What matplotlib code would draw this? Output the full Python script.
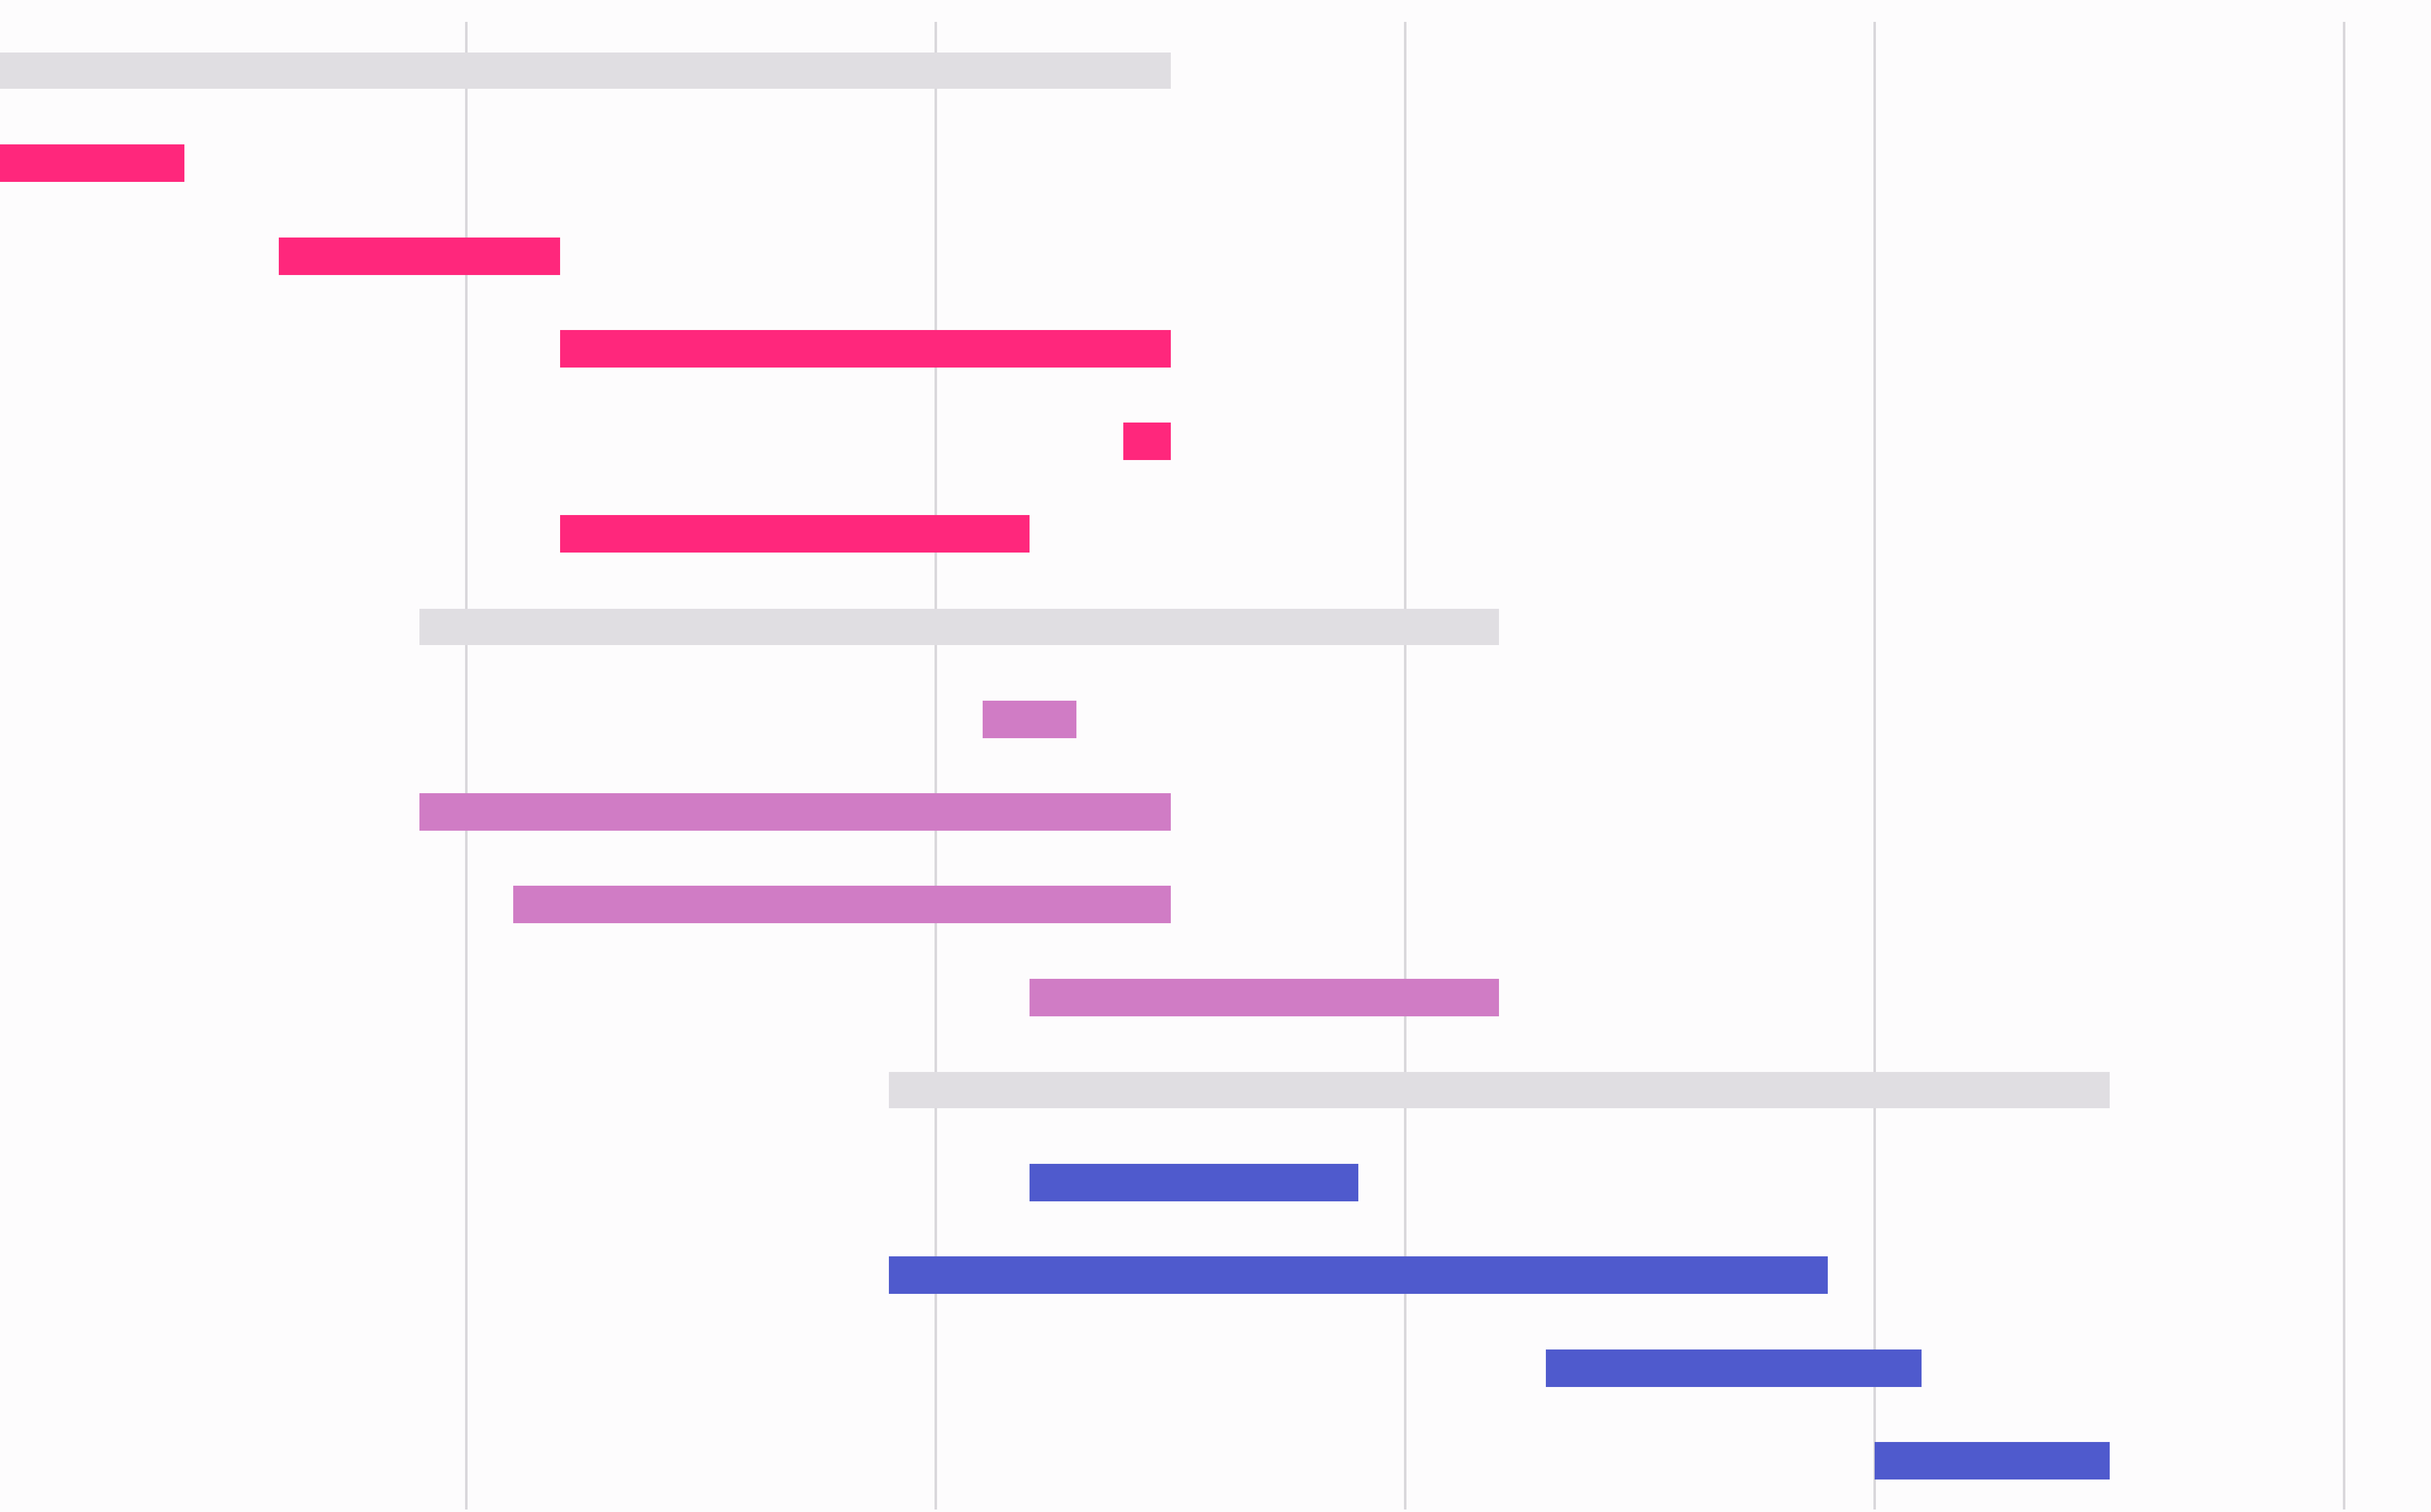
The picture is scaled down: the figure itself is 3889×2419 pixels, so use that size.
import matplotlib
matplotlib.use("Agg")
import matplotlib.pyplot as plt

# tasks top to bottom: start, end (units of the x axis)
starts = [0, 0, 6, 12, 24, 12, 9, 21, 9, 11, 22, 19, 22, 19, 33, 40]
ends = [25, 4, 12, 25, 25, 22, 32, 23, 25, 25, 32, 45, 29, 39, 41, 45]
groups = ["summary", "a", "a", "a", "a", "a",
          "summary", "b", "b", "b", "b",
          "summary", "c", "c", "c", "c"]
grid_ticks = [10, 20, 30, 40, 50]

colors = {
    "summary": "#e0dee2",
    "a": "#ff277c",
    "b": "#d07cc5",
    "c": "#4f5acd",
}

W, H = 3889, 2419
dpi = 100
fig = plt.figure(figsize=(W / dpi, H / dpi), dpi=dpi)
fig.patch.set_facecolor("#fdfcfd")

# axes spans the gridline area
ax = fig.add_axes([0, 4 / H, 1, (2415 - 35) / H])
ax.set_facecolor("#fdfcfd")

n = len(starts)
rows = list(range(n))
widths = [e - s for s, e in zip(starts, ends)]
bar_colors = [colors[g] for g in groups]
heights = [0.39 if g == "summary" else 0.405 for g in groups]

ax.barh(rows, widths, left=starts, height=heights, color=bar_colors,
        edgecolor="none", zorder=3)

px_per_unit = 75.1
ax.set_xlim(5 / px_per_unit, (W + 5) / px_per_unit)
ax.set_ylim(n - 0.5 + 0.026, -0.526)

ax.set_xticks(grid_ticks)
ax.grid(True, axis="x", color="#d9d7db", linewidth=2.9, zorder=0)
ax.grid(False, axis="y")
ax.tick_params(left=False, bottom=False, labelleft=False, labelbottom=False)
for s in ax.spines.values():
    s.set_visible(False)

fig.savefig("out.png", dpi=dpi, facecolor=fig.get_facecolor())
